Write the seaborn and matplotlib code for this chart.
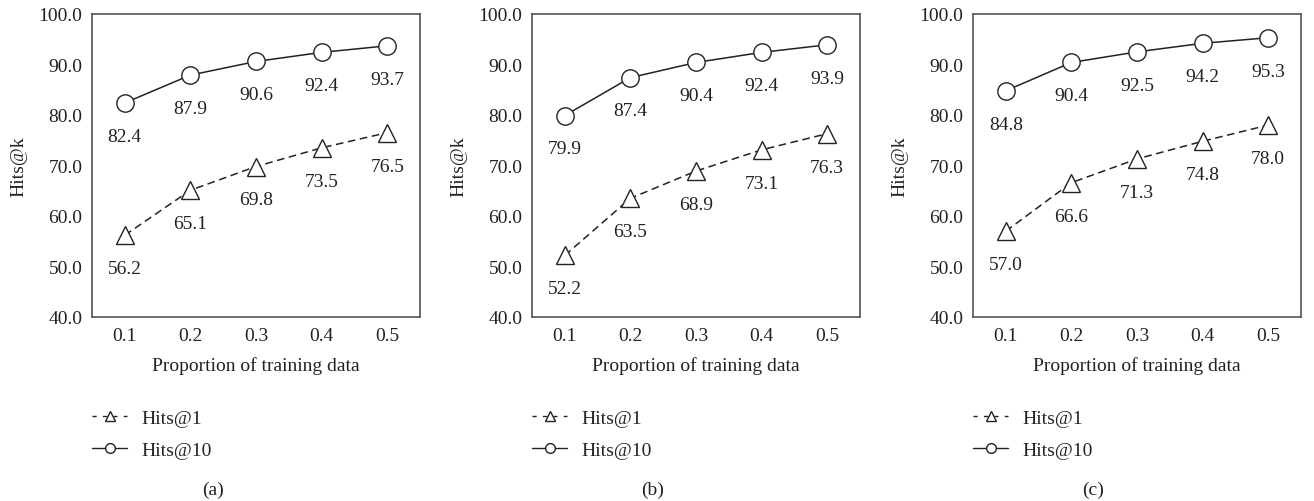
import matplotlib
matplotlib.use("Agg")
import matplotlib.pyplot as plt
from matplotlib.lines import Line2D
from matplotlib.ticker import FormatStrFormatter
import numpy as np
import pandas as pd
import seaborn as sns

# data
proportions = [0.1, 0.2, 0.3, 0.4, 0.5]
hits1_a = [56.2, 65.1, 69.8, 73.5, 76.5]
hits10_a = [82.4, 87.9, 90.6, 92.4, 93.7]
hits1_b = [52.2, 63.5, 68.9, 73.1, 76.3]
hits10_b = [79.9, 87.4, 90.4, 92.4, 93.9]
hits1_c = [57.0, 66.6, 71.3, 74.8, 78.0]
hits10_c = [84.8, 90.4, 92.5, 94.2, 95.3]
panel_names = ["(a)", "(b)", "(c)"]
series_names = ["Hits@1", "Hits@10"]
yticks = [40, 50, 60, 70, 80, 90, 100]

sns.set_theme(style="white")
plt.rcParams["font.family"] = ["Liberation Serif", "DejaVu Serif"]
plt.rcParams["font.size"] = 14

ink = "#222222"
markers = {"Hits@1": "^", "Hits@10": "o"}
dashes = {"Hits@1": (5, 3), "Hits@10": ""}

panels = [(hits1_a, hits10_a), (hits1_b, hits10_b), (hits1_c, hits10_c)]
lefts = [92, 532, 973]
caption_x = [213, 653, 1093]

W, H = 1314, 502
fig = plt.figure(figsize=(W / 100, H / 100), dpi=100)

for left, (h1, h10), name, cx in zip(lefts, panels, panel_names, caption_x):
    ax = fig.add_axes([left / W, 1 - 318 / H, 328 / W, 303 / H])
    df = pd.DataFrame({
        "proportion": proportions * 2,
        "value": h1 + h10,
        "metric": ["Hits@1"] * 5 + ["Hits@10"] * 5,
    })
    sns.lineplot(data=df, x="proportion", y="value", style="metric",
                 markers=markers, dashes=dashes, color=ink, lw=1.1,
                 markersize=12.5, mfc="white", mec=ink, mew=1.0,
                 legend=False, ax=ax)
    for x, y in zip(df["proportion"], df["value"]):
        ax.annotate(f"{y:.1f}", (x, y), xytext=(0, -24), textcoords="offset points",
                    ha="center", va="center", fontsize=14, color=ink)

    ax.set_xlim(0.05, 0.55)
    ax.set_ylim(40, 100)
    ax.set_xticks(proportions)
    ax.set_yticks(yticks)
    ax.yaxis.set_major_formatter(FormatStrFormatter("%.1f"))
    ax.xaxis.set_major_formatter(FormatStrFormatter("%.1f"))
    ax.tick_params(length=0, pad=7, labelsize=14, colors=ink)
    ax.set_xlabel("Proportion of training data", fontsize=14, color=ink, labelpad=9)
    ax.set_ylabel("Hits@k", fontsize=14, color=ink, labelpad=8)
    for s in ax.spines.values():
        s.set_color("#555555")
        s.set_linewidth(1.2)

    handles = [
        Line2D([], [], color=ink, lw=1.0, dashes=(3, 4.5), marker="^", ms=7,
               mfc="white", mec=ink),
        Line2D([], [], color=ink, lw=1.0, marker="o", ms=7, mfc="white", mec=ink),
    ]
    ax.legend(handles, series_names, loc="upper left", bbox_to_anchor=(0, -0.305),
              frameon=False, borderpad=0, borderaxespad=0, handlelength=1.8,
              handletextpad=0.75, labelspacing=0.75, fontsize=14,
              labelcolor=ink)

    fig.text(cx / W, 1 - 490 / H, name, ha="center", va="center",
             fontsize=14, color=ink)

fig.savefig("out.png", dpi=100)
